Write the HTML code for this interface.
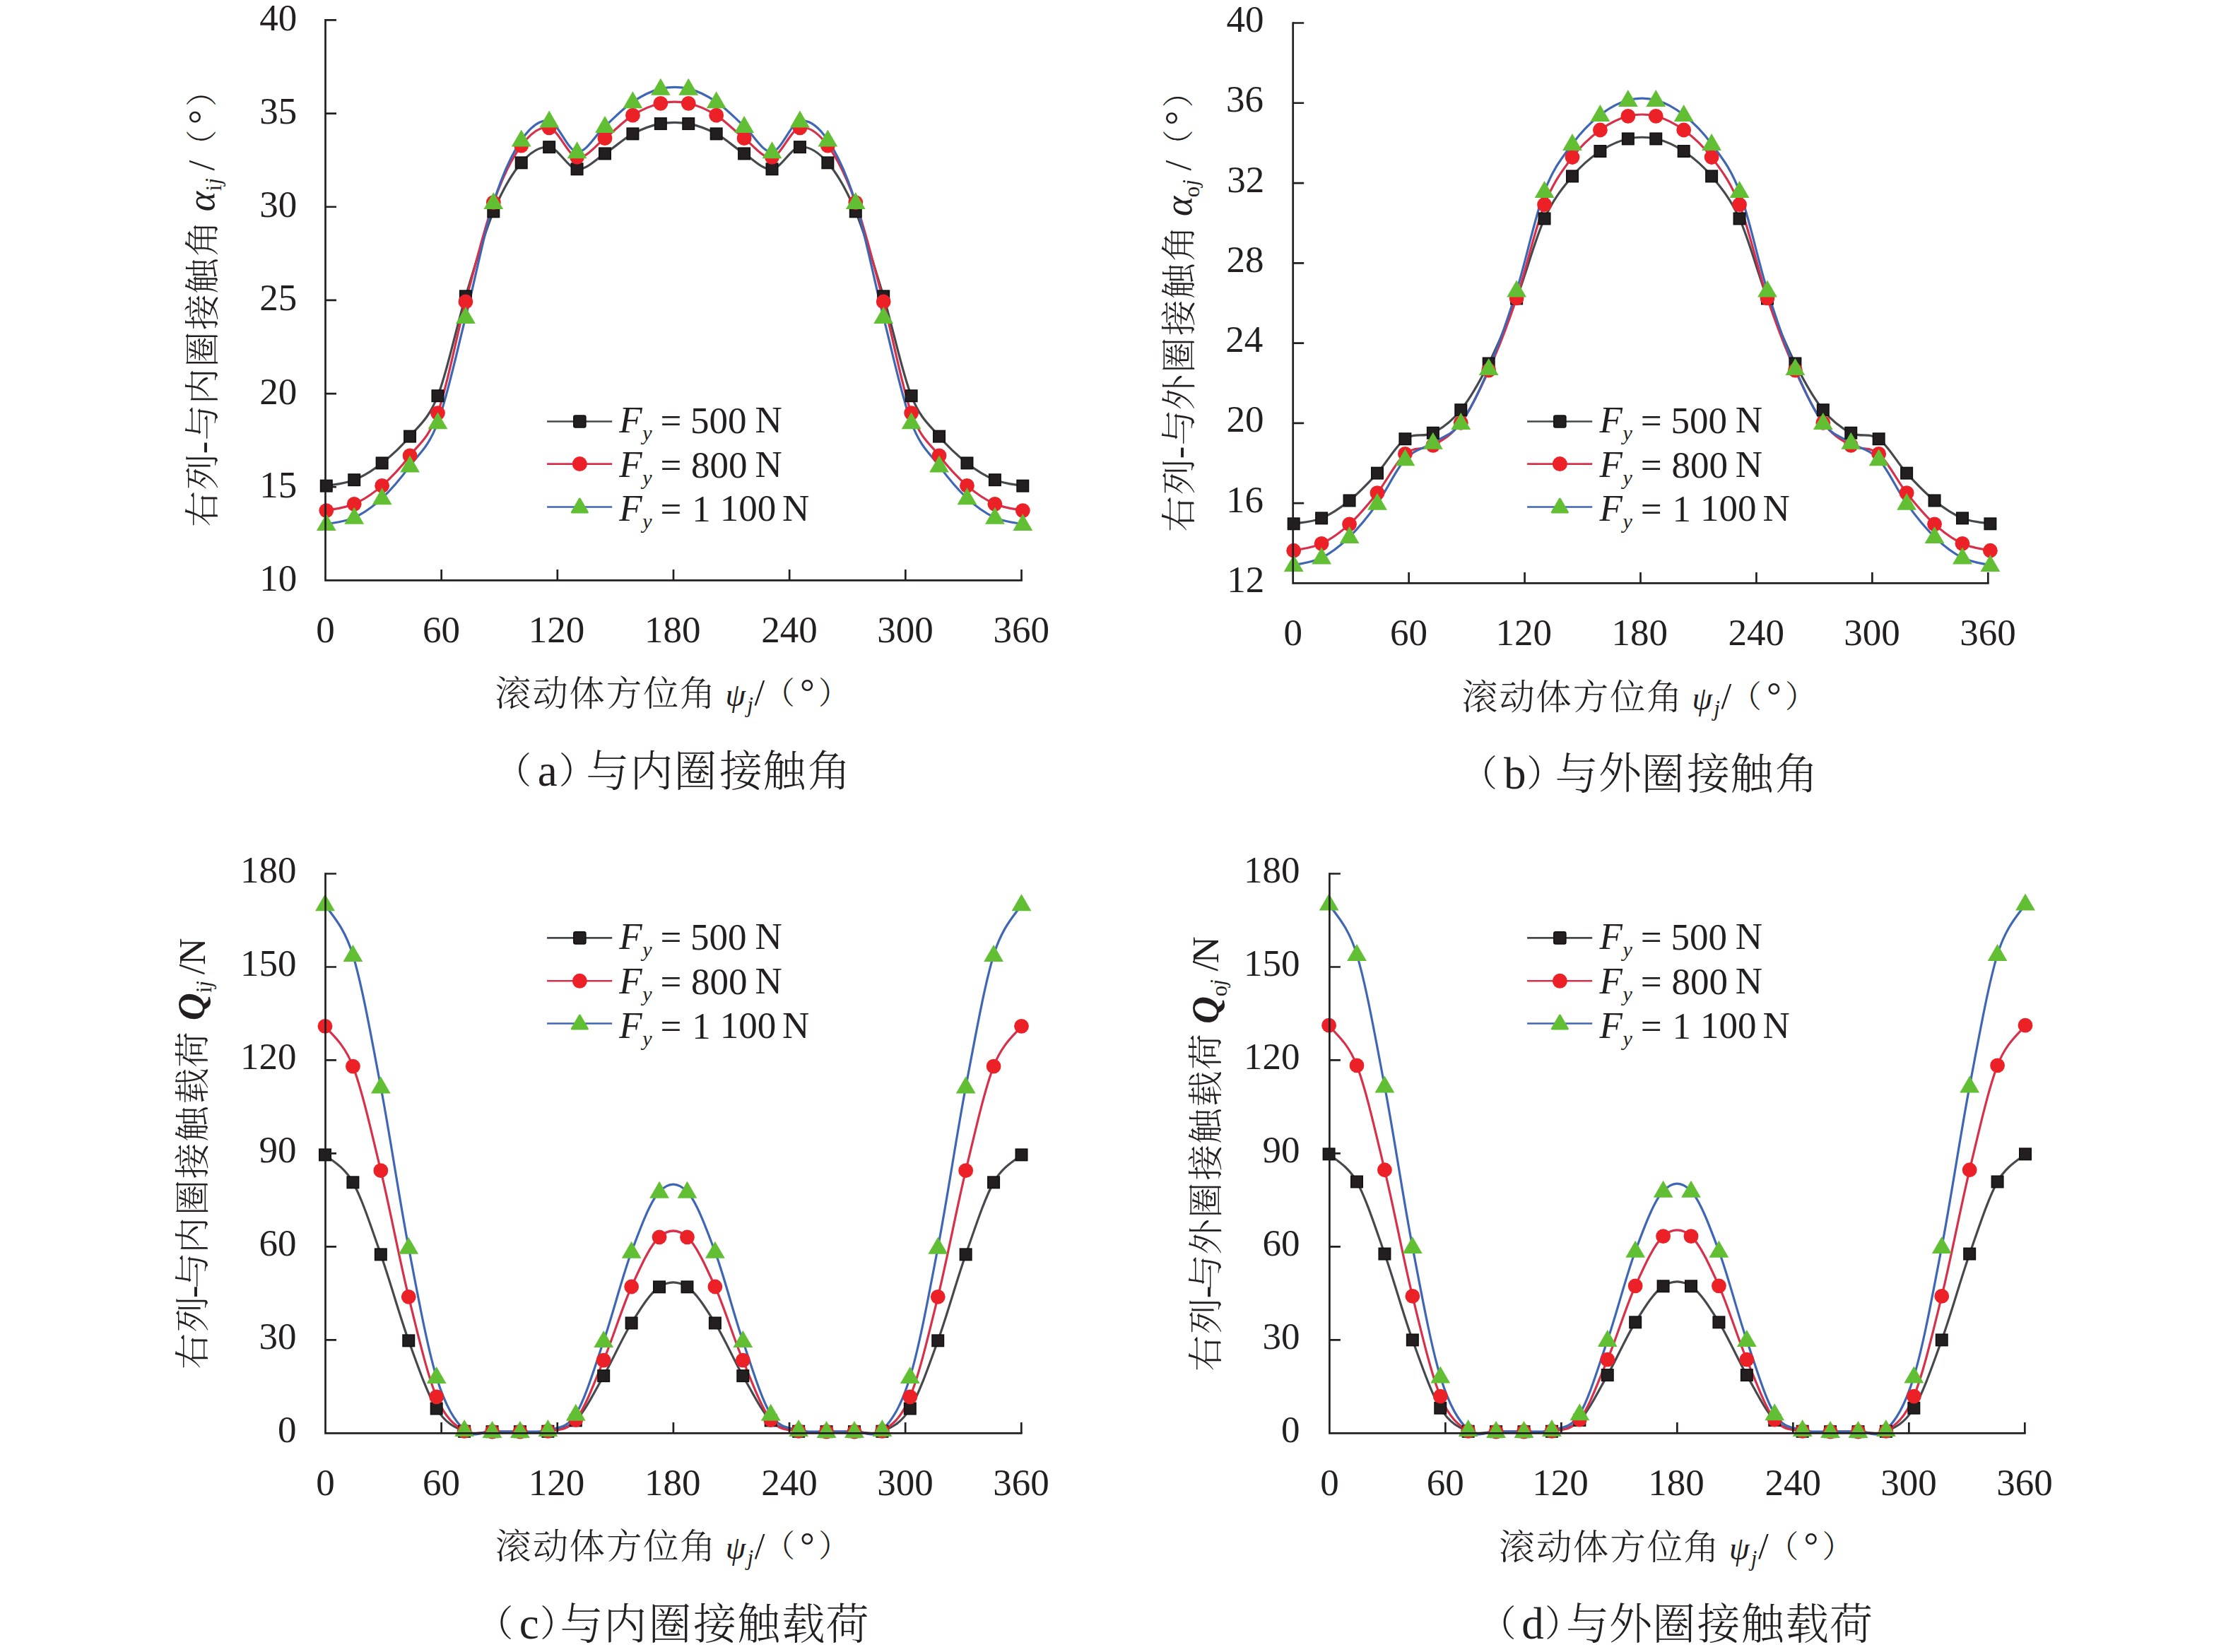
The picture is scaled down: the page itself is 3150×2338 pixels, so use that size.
<!DOCTYPE html>
<html><head><meta charset="utf-8"><title>Contact angle and contact load vs. rolling element azimuth</title>
<style>
html,body{margin:0;padding:0;background:#fff;}
body{width:3150px;height:2338px;overflow:hidden;}
svg{display:block;}
</style></head><body>
<svg width="3150" height="2338" viewBox="0 0 3150 2338">
<rect width="3150" height="2338" fill="#fff"/>
<g>
<path d="M461.8,687.65C468.37,686.24 488.08,684.56 501.22,679.19C514.36,673.81 527.5,665.66 540.64,655.4C553.78,645.13 566.92,633.46 580.06,617.6C593.2,601.74 606.34,593.28 619.48,560.24C632.62,527.2 645.76,462.83 658.9,419.35C672.04,375.87 685.18,330.84 698.32,299.34C711.46,267.84 724.6,245.55 737.74,230.35C750.88,215.15 764.02,206.65 777.16,208.15C790.3,209.64 803.44,237.8 816.58,239.34C829.72,240.88 842.86,225.72 856,217.4C869.14,209.07 882.28,196.43 895.42,189.38C908.56,182.33 921.7,177.48 934.84,175.1C947.98,172.73 961.12,172.73 974.26,175.1C987.4,177.48 1000.54,182.33 1013.68,189.38C1026.82,196.43 1039.96,209.07 1053.1,217.4C1066.24,225.72 1079.38,240.88 1092.52,239.34C1105.66,237.8 1118.8,209.64 1131.94,208.15C1145.08,206.65 1158.22,215.15 1171.36,230.35C1184.5,245.55 1197.64,267.84 1210.78,299.34C1223.92,330.84 1237.06,375.87 1250.2,419.35C1263.34,462.83 1276.48,527.2 1289.62,560.24C1302.76,593.28 1315.9,601.74 1329.04,617.6C1342.18,633.46 1355.32,645.13 1368.46,655.4C1381.6,665.66 1394.74,673.81 1407.88,679.19C1421.02,684.56 1440.73,686.24 1447.3,687.65" fill="none" stroke="#45484c" stroke-width="3.2" stroke-linejoin="round"/>
<path d="M461.8,722.54C468.37,721 488.08,719.15 501.22,713.29C514.36,707.43 527.5,698.79 540.64,687.38C553.78,675.97 566.92,661.96 580.06,644.83C593.2,627.69 606.34,620.86 619.48,584.56C632.62,548.26 645.76,476.67 658.9,427.01C672.04,377.36 685.18,323.48 698.32,286.65C711.46,249.82 724.6,223.65 737.74,206.03C750.88,188.41 764.02,178.19 777.16,180.92C790.3,183.65 803.44,219.95 816.58,222.42C829.72,224.89 842.86,205.59 856,195.72C869.14,185.85 882.28,171.45 895.42,163.21C908.56,154.97 921.7,149.11 934.84,146.29C947.98,143.47 961.12,143.47 974.26,146.29C987.4,149.11 1000.54,154.97 1013.68,163.21C1026.82,171.45 1039.96,185.85 1053.1,195.72C1066.24,205.59 1079.38,224.89 1092.52,222.42C1105.66,219.95 1118.8,183.65 1131.94,180.92C1145.08,178.19 1158.22,188.41 1171.36,206.03C1184.5,223.65 1197.64,249.82 1210.78,286.65C1223.92,323.48 1237.06,377.36 1250.2,427.01C1263.34,476.67 1276.48,548.26 1289.62,584.56C1302.76,620.86 1315.9,627.69 1329.04,644.83C1342.18,661.96 1355.32,675.97 1368.46,687.38C1381.6,698.79 1394.74,707.43 1407.88,713.29C1421.02,719.15 1440.73,721 1447.3,722.54" fill="none" stroke="#d6304a" stroke-width="3.2" stroke-linejoin="round"/>
<path d="M461.8,741.84C468.37,740.29 488.08,738.71 501.22,732.58C514.36,726.46 527.5,717.3 540.64,705.09C553.78,692.89 566.92,677.21 580.06,659.36C593.2,641.52 606.34,633.11 619.48,598.04C632.62,562.97 645.76,500.81 658.9,448.95C672.04,397.1 685.18,328.68 698.32,286.92C711.46,245.15 724.6,217.62 737.74,198.37C750.88,179.11 764.02,168.63 777.16,171.4C790.3,174.18 803.44,213.79 816.58,215.02C829.72,216.25 842.86,190.61 856,178.81C869.14,167 882.28,153.03 895.42,144.18C908.56,135.32 921.7,128.76 934.84,125.67C947.98,122.59 961.12,122.59 974.26,125.67C987.4,128.76 1000.54,135.32 1013.68,144.18C1026.82,153.03 1039.96,167 1053.1,178.81C1066.24,190.61 1079.38,216.25 1092.52,215.02C1105.66,213.79 1118.8,174.18 1131.94,171.4C1145.08,168.63 1158.22,179.11 1171.36,198.37C1184.5,217.62 1197.64,245.15 1210.78,286.92C1223.92,328.68 1237.06,397.1 1250.2,448.95C1263.34,500.81 1276.48,562.97 1289.62,598.04C1302.76,633.11 1315.9,641.52 1329.04,659.36C1342.18,677.21 1355.32,692.89 1368.46,705.09C1381.6,717.3 1394.74,726.46 1407.88,732.58C1421.02,738.71 1440.73,740.29 1447.3,741.84" fill="none" stroke="#3f66b5" stroke-width="3.2" stroke-linejoin="round"/>
<rect x="453.6" y="679.45" width="16.4" height="16.4" fill="#231f20" stroke="#111" stroke-width="1.6"/><rect x="493.02" y="670.99" width="16.4" height="16.4" fill="#231f20" stroke="#111" stroke-width="1.6"/><rect x="532.44" y="647.2" width="16.4" height="16.4" fill="#231f20" stroke="#111" stroke-width="1.6"/><rect x="571.86" y="609.4" width="16.4" height="16.4" fill="#231f20" stroke="#111" stroke-width="1.6"/><rect x="611.28" y="552.04" width="16.4" height="16.4" fill="#231f20" stroke="#111" stroke-width="1.6"/><rect x="650.7" y="411.15" width="16.4" height="16.4" fill="#231f20" stroke="#111" stroke-width="1.6"/><rect x="690.12" y="291.14" width="16.4" height="16.4" fill="#231f20" stroke="#111" stroke-width="1.6"/><rect x="729.54" y="222.15" width="16.4" height="16.4" fill="#231f20" stroke="#111" stroke-width="1.6"/><rect x="768.96" y="199.95" width="16.4" height="16.4" fill="#231f20" stroke="#111" stroke-width="1.6"/><rect x="808.38" y="231.14" width="16.4" height="16.4" fill="#231f20" stroke="#111" stroke-width="1.6"/><rect x="847.8" y="209.2" width="16.4" height="16.4" fill="#231f20" stroke="#111" stroke-width="1.6"/><rect x="887.22" y="181.18" width="16.4" height="16.4" fill="#231f20" stroke="#111" stroke-width="1.6"/><rect x="926.64" y="166.9" width="16.4" height="16.4" fill="#231f20" stroke="#111" stroke-width="1.6"/><rect x="966.06" y="166.9" width="16.4" height="16.4" fill="#231f20" stroke="#111" stroke-width="1.6"/><rect x="1005.48" y="181.18" width="16.4" height="16.4" fill="#231f20" stroke="#111" stroke-width="1.6"/><rect x="1044.9" y="209.2" width="16.4" height="16.4" fill="#231f20" stroke="#111" stroke-width="1.6"/><rect x="1084.32" y="231.14" width="16.4" height="16.4" fill="#231f20" stroke="#111" stroke-width="1.6"/><rect x="1123.74" y="199.95" width="16.4" height="16.4" fill="#231f20" stroke="#111" stroke-width="1.6"/><rect x="1163.16" y="222.15" width="16.4" height="16.4" fill="#231f20" stroke="#111" stroke-width="1.6"/><rect x="1202.58" y="291.14" width="16.4" height="16.4" fill="#231f20" stroke="#111" stroke-width="1.6"/><rect x="1242" y="411.15" width="16.4" height="16.4" fill="#231f20" stroke="#111" stroke-width="1.6"/><rect x="1281.42" y="552.04" width="16.4" height="16.4" fill="#231f20" stroke="#111" stroke-width="1.6"/><rect x="1320.84" y="609.4" width="16.4" height="16.4" fill="#231f20" stroke="#111" stroke-width="1.6"/><rect x="1360.26" y="647.2" width="16.4" height="16.4" fill="#231f20" stroke="#111" stroke-width="1.6"/><rect x="1399.68" y="670.99" width="16.4" height="16.4" fill="#231f20" stroke="#111" stroke-width="1.6"/><rect x="1439.1" y="679.45" width="16.4" height="16.4" fill="#231f20" stroke="#111" stroke-width="1.6"/>
<circle cx="461.8" cy="722.54" r="10.4" fill="#ec2027"/><circle cx="501.22" cy="713.29" r="10.4" fill="#ec2027"/><circle cx="540.64" cy="687.38" r="10.4" fill="#ec2027"/><circle cx="580.06" cy="644.83" r="10.4" fill="#ec2027"/><circle cx="619.48" cy="584.56" r="10.4" fill="#ec2027"/><circle cx="658.9" cy="427.01" r="10.4" fill="#ec2027"/><circle cx="698.32" cy="286.65" r="10.4" fill="#ec2027"/><circle cx="737.74" cy="206.03" r="10.4" fill="#ec2027"/><circle cx="777.16" cy="180.92" r="10.4" fill="#ec2027"/><circle cx="816.58" cy="222.42" r="10.4" fill="#ec2027"/><circle cx="856" cy="195.72" r="10.4" fill="#ec2027"/><circle cx="895.42" cy="163.21" r="10.4" fill="#ec2027"/><circle cx="934.84" cy="146.29" r="10.4" fill="#ec2027"/><circle cx="974.26" cy="146.29" r="10.4" fill="#ec2027"/><circle cx="1013.68" cy="163.21" r="10.4" fill="#ec2027"/><circle cx="1053.1" cy="195.72" r="10.4" fill="#ec2027"/><circle cx="1092.52" cy="222.42" r="10.4" fill="#ec2027"/><circle cx="1131.94" cy="180.92" r="10.4" fill="#ec2027"/><circle cx="1171.36" cy="206.03" r="10.4" fill="#ec2027"/><circle cx="1210.78" cy="286.65" r="10.4" fill="#ec2027"/><circle cx="1250.2" cy="427.01" r="10.4" fill="#ec2027"/><circle cx="1289.62" cy="584.56" r="10.4" fill="#ec2027"/><circle cx="1329.04" cy="644.83" r="10.4" fill="#ec2027"/><circle cx="1368.46" cy="687.38" r="10.4" fill="#ec2027"/><circle cx="1407.88" cy="713.29" r="10.4" fill="#ec2027"/><circle cx="1447.3" cy="722.54" r="10.4" fill="#ec2027"/>
<path d="M461.8,726.96L475.7,750.96L447.9,750.96Z" fill="#62bf34"/><path d="M501.22,717.7L515.12,741.7L487.32,741.7Z" fill="#62bf34"/><path d="M540.64,690.21L554.54,714.21L526.74,714.21Z" fill="#62bf34"/><path d="M580.06,644.48L593.96,668.48L566.16,668.48Z" fill="#62bf34"/><path d="M619.48,583.16L633.38,607.16L605.58,607.16Z" fill="#62bf34"/><path d="M658.9,434.07L672.8,458.07L645,458.07Z" fill="#62bf34"/><path d="M698.32,272.04L712.22,296.04L684.42,296.04Z" fill="#62bf34"/><path d="M737.74,183.49L751.64,207.49L723.84,207.49Z" fill="#62bf34"/><path d="M777.16,156.52L791.06,180.52L763.26,180.52Z" fill="#62bf34"/><path d="M816.58,200.14L830.48,224.14L802.68,224.14Z" fill="#62bf34"/><path d="M856,163.93L869.9,187.93L842.1,187.93Z" fill="#62bf34"/><path d="M895.42,129.3L909.32,153.3L881.52,153.3Z" fill="#62bf34"/><path d="M934.84,110.79L948.74,134.79L920.94,134.79Z" fill="#62bf34"/><path d="M974.26,110.79L988.16,134.79L960.36,134.79Z" fill="#62bf34"/><path d="M1013.68,129.3L1027.58,153.3L999.78,153.3Z" fill="#62bf34"/><path d="M1053.1,163.93L1067,187.93L1039.2,187.93Z" fill="#62bf34"/><path d="M1092.52,200.14L1106.42,224.14L1078.62,224.14Z" fill="#62bf34"/><path d="M1131.94,156.52L1145.84,180.52L1118.04,180.52Z" fill="#62bf34"/><path d="M1171.36,183.49L1185.26,207.49L1157.46,207.49Z" fill="#62bf34"/><path d="M1210.78,272.04L1224.68,296.04L1196.88,296.04Z" fill="#62bf34"/><path d="M1250.2,434.07L1264.1,458.07L1236.3,458.07Z" fill="#62bf34"/><path d="M1289.62,583.16L1303.52,607.16L1275.72,607.16Z" fill="#62bf34"/><path d="M1329.04,644.48L1342.94,668.48L1315.14,668.48Z" fill="#62bf34"/><path d="M1368.46,690.21L1382.36,714.21L1354.56,714.21Z" fill="#62bf34"/><path d="M1407.88,717.7L1421.78,741.7L1393.98,741.7Z" fill="#62bf34"/><path d="M1447.3,726.96L1461.2,750.96L1433.4,750.96Z" fill="#62bf34"/>
<path d="M460.5,27.05V821.4H1446.85" fill="none" stroke="#231f20" stroke-width="2.7"/>
<path d="M460.5,689.23h15.5M460.5,557.07h15.5M460.5,424.9h15.5M460.5,292.73h15.5M460.5,160.57h15.5M460.5,28.4h15.5M624.67,821.4v-15.5M788.83,821.4v-15.5M953,821.4v-15.5M1117.17,821.4v-15.5M1281.33,821.4v-15.5M1445.5,821.4v-15.5" fill="none" stroke="#231f20" stroke-width="2.7"/>
<line x1="774.1" y1="596.5" x2="866.2" y2="596.5" stroke="#45484c" stroke-width="2.6"/>
<rect x="811.85" y="588" width="17" height="17" rx="2.4" fill="#231f20" stroke="#111" stroke-width="1.6"/>
<line x1="774.1" y1="656.6" x2="866.2" y2="656.6" stroke="#d6304a" stroke-width="2.6"/>
<circle cx="820.35" cy="656.6" r="10.5" fill="#ec2027"/>
<line x1="774.1" y1="717.5" x2="866.2" y2="717.5" stroke="#3f66b5" stroke-width="2.6"/>
<path d="M820.35,706.1L831.35,725.1L809.35,725.1Z" fill="#62bf34" stroke="#62bf34" stroke-width="3" stroke-linejoin="round"/>
</g>
<g>
<path d="M1830.7,741.3C1837.27,739.97 1856.99,738.84 1870.13,733.37C1883.27,727.89 1896.41,719.07 1909.56,708.45C1922.7,697.83 1935.84,684.19 1948.98,669.65C1962.13,655.12 1975.27,630.71 1988.41,621.23C2001.55,611.74 2014.7,619.58 2027.84,612.73C2040.98,605.89 2054.13,596.54 2067.27,580.17C2080.41,563.79 2093.55,540.76 2106.7,514.47C2119.84,488.18 2132.98,456.61 2146.12,422.44C2159.27,388.27 2172.41,338.29 2185.55,309.45C2198.69,280.61 2211.84,265.32 2224.98,249.41C2238.12,233.51 2251.27,222.84 2264.41,214.02C2277.55,205.19 2290.69,199.39 2303.84,196.46C2316.98,193.53 2330.12,193.53 2343.26,196.46C2356.41,199.39 2369.55,205.19 2382.69,214.02C2395.83,222.84 2408.98,233.51 2422.12,249.41C2435.26,265.32 2448.41,280.61 2461.55,309.45C2474.69,338.29 2487.83,388.27 2500.98,422.44C2514.12,456.61 2527.26,488.18 2540.4,514.47C2553.55,540.76 2566.69,563.79 2579.83,580.17C2592.97,596.54 2606.12,605.89 2619.26,612.73C2632.4,619.58 2645.55,611.74 2658.69,621.23C2671.83,630.71 2684.97,655.12 2698.12,669.65C2711.26,684.19 2724.4,697.83 2737.54,708.45C2750.69,719.07 2763.83,727.89 2776.97,733.37C2790.11,738.84 2809.83,739.97 2816.4,741.3" fill="none" stroke="#45484c" stroke-width="3.2" stroke-linejoin="round"/>
<path d="M1830.7,779.24C1837.27,777.59 1856.99,775.56 1870.13,769.33C1883.27,763.1 1896.41,753.8 1909.56,741.86C1922.7,729.92 1935.84,714.25 1948.98,697.69C1962.13,681.12 1975.27,653.7 1988.41,642.47C2001.55,631.23 2014.7,637.65 2027.84,630.29C2040.98,622.93 2054.13,615.99 2067.27,598.29C2080.41,580.59 2093.55,553.5 2106.7,524.1C2119.84,494.69 2132.98,460.95 2146.12,421.87C2159.27,382.79 2172.41,322.85 2185.55,289.63C2198.69,256.4 2211.84,240.12 2224.98,222.51C2238.12,204.91 2251.27,193.68 2264.41,184C2277.55,174.33 2290.69,167.72 2303.84,164.46C2316.98,161.2 2330.12,161.2 2343.26,164.46C2356.41,167.72 2369.55,174.33 2382.69,184C2395.83,193.68 2408.98,204.91 2422.12,222.51C2435.26,240.12 2448.41,256.4 2461.55,289.63C2474.69,322.85 2487.83,382.79 2500.98,421.87C2514.12,460.95 2527.26,494.69 2540.4,524.1C2553.55,553.5 2566.69,580.59 2579.83,598.29C2592.97,615.99 2606.12,622.93 2619.26,630.29C2632.4,637.65 2645.55,631.23 2658.69,642.47C2671.83,653.7 2684.97,681.12 2698.12,697.69C2711.26,714.25 2724.4,729.92 2737.54,741.86C2750.69,753.8 2763.83,763.1 2776.97,769.33C2790.11,775.56 2809.83,777.59 2816.4,779.24" fill="none" stroke="#d6304a" stroke-width="3.2" stroke-linejoin="round"/>
<path d="M1830.7,799.91C1837.27,798.17 1856.99,796.09 1870.13,789.44C1883.27,782.78 1896.41,772.78 1909.56,759.99C1922.7,747.2 1935.84,731.01 1948.98,712.69C1962.13,694.38 1975.27,664.46 1988.41,650.11C2001.55,635.76 2014.7,635.15 2027.84,626.61C2040.98,618.07 2054.13,616.32 2067.27,598.86C2080.41,581.39 2093.55,553.08 2106.7,521.83C2119.84,490.59 2132.98,453.21 2146.12,411.39C2159.27,369.58 2172.41,305.53 2185.55,270.94C2198.69,236.34 2211.84,221.85 2224.98,203.82C2238.12,185.79 2251.27,173.1 2264.41,162.76C2277.55,152.43 2290.69,145.3 2303.84,141.81C2316.98,138.31 2330.12,138.31 2343.26,141.81C2356.41,145.3 2369.55,152.43 2382.69,162.76C2395.83,173.1 2408.98,185.79 2422.12,203.82C2435.26,221.85 2448.41,236.34 2461.55,270.94C2474.69,305.53 2487.83,369.58 2500.98,411.39C2514.12,453.21 2527.26,490.59 2540.4,521.83C2553.55,553.08 2566.69,581.39 2579.83,598.86C2592.97,616.32 2606.12,618.07 2619.26,626.61C2632.4,635.15 2645.55,635.76 2658.69,650.11C2671.83,664.46 2684.97,694.38 2698.12,712.69C2711.26,731.01 2724.4,747.2 2737.54,759.99C2750.69,772.78 2763.83,782.78 2776.97,789.44C2790.11,796.09 2809.83,798.17 2816.4,799.91" fill="none" stroke="#3f66b5" stroke-width="3.2" stroke-linejoin="round"/>
<rect x="1822.5" y="733.1" width="16.4" height="16.4" fill="#231f20" stroke="#111" stroke-width="1.6"/><rect x="1861.93" y="725.17" width="16.4" height="16.4" fill="#231f20" stroke="#111" stroke-width="1.6"/><rect x="1901.36" y="700.25" width="16.4" height="16.4" fill="#231f20" stroke="#111" stroke-width="1.6"/><rect x="1940.78" y="661.45" width="16.4" height="16.4" fill="#231f20" stroke="#111" stroke-width="1.6"/><rect x="1980.21" y="613.03" width="16.4" height="16.4" fill="#231f20" stroke="#111" stroke-width="1.6"/><rect x="2019.64" y="604.53" width="16.4" height="16.4" fill="#231f20" stroke="#111" stroke-width="1.6"/><rect x="2059.07" y="571.97" width="16.4" height="16.4" fill="#231f20" stroke="#111" stroke-width="1.6"/><rect x="2098.5" y="506.27" width="16.4" height="16.4" fill="#231f20" stroke="#111" stroke-width="1.6"/><rect x="2137.92" y="414.24" width="16.4" height="16.4" fill="#231f20" stroke="#111" stroke-width="1.6"/><rect x="2177.35" y="301.25" width="16.4" height="16.4" fill="#231f20" stroke="#111" stroke-width="1.6"/><rect x="2216.78" y="241.21" width="16.4" height="16.4" fill="#231f20" stroke="#111" stroke-width="1.6"/><rect x="2256.21" y="205.82" width="16.4" height="16.4" fill="#231f20" stroke="#111" stroke-width="1.6"/><rect x="2295.64" y="188.26" width="16.4" height="16.4" fill="#231f20" stroke="#111" stroke-width="1.6"/><rect x="2335.06" y="188.26" width="16.4" height="16.4" fill="#231f20" stroke="#111" stroke-width="1.6"/><rect x="2374.49" y="205.82" width="16.4" height="16.4" fill="#231f20" stroke="#111" stroke-width="1.6"/><rect x="2413.92" y="241.21" width="16.4" height="16.4" fill="#231f20" stroke="#111" stroke-width="1.6"/><rect x="2453.35" y="301.25" width="16.4" height="16.4" fill="#231f20" stroke="#111" stroke-width="1.6"/><rect x="2492.78" y="414.24" width="16.4" height="16.4" fill="#231f20" stroke="#111" stroke-width="1.6"/><rect x="2532.2" y="506.27" width="16.4" height="16.4" fill="#231f20" stroke="#111" stroke-width="1.6"/><rect x="2571.63" y="571.97" width="16.4" height="16.4" fill="#231f20" stroke="#111" stroke-width="1.6"/><rect x="2611.06" y="604.53" width="16.4" height="16.4" fill="#231f20" stroke="#111" stroke-width="1.6"/><rect x="2650.49" y="613.03" width="16.4" height="16.4" fill="#231f20" stroke="#111" stroke-width="1.6"/><rect x="2689.92" y="661.45" width="16.4" height="16.4" fill="#231f20" stroke="#111" stroke-width="1.6"/><rect x="2729.34" y="700.25" width="16.4" height="16.4" fill="#231f20" stroke="#111" stroke-width="1.6"/><rect x="2768.77" y="725.17" width="16.4" height="16.4" fill="#231f20" stroke="#111" stroke-width="1.6"/><rect x="2808.2" y="733.1" width="16.4" height="16.4" fill="#231f20" stroke="#111" stroke-width="1.6"/>
<circle cx="1830.7" cy="779.24" r="10.4" fill="#ec2027"/><circle cx="1870.13" cy="769.33" r="10.4" fill="#ec2027"/><circle cx="1909.56" cy="741.86" r="10.4" fill="#ec2027"/><circle cx="1948.98" cy="697.69" r="10.4" fill="#ec2027"/><circle cx="1988.41" cy="642.47" r="10.4" fill="#ec2027"/><circle cx="2027.84" cy="630.29" r="10.4" fill="#ec2027"/><circle cx="2067.27" cy="598.29" r="10.4" fill="#ec2027"/><circle cx="2106.7" cy="524.1" r="10.4" fill="#ec2027"/><circle cx="2146.12" cy="421.87" r="10.4" fill="#ec2027"/><circle cx="2185.55" cy="289.63" r="10.4" fill="#ec2027"/><circle cx="2224.98" cy="222.51" r="10.4" fill="#ec2027"/><circle cx="2264.41" cy="184" r="10.4" fill="#ec2027"/><circle cx="2303.84" cy="164.46" r="10.4" fill="#ec2027"/><circle cx="2343.26" cy="164.46" r="10.4" fill="#ec2027"/><circle cx="2382.69" cy="184" r="10.4" fill="#ec2027"/><circle cx="2422.12" cy="222.51" r="10.4" fill="#ec2027"/><circle cx="2461.55" cy="289.63" r="10.4" fill="#ec2027"/><circle cx="2500.98" cy="421.87" r="10.4" fill="#ec2027"/><circle cx="2540.4" cy="524.1" r="10.4" fill="#ec2027"/><circle cx="2579.83" cy="598.29" r="10.4" fill="#ec2027"/><circle cx="2619.26" cy="630.29" r="10.4" fill="#ec2027"/><circle cx="2658.69" cy="642.47" r="10.4" fill="#ec2027"/><circle cx="2698.12" cy="697.69" r="10.4" fill="#ec2027"/><circle cx="2737.54" cy="741.86" r="10.4" fill="#ec2027"/><circle cx="2776.97" cy="769.33" r="10.4" fill="#ec2027"/><circle cx="2816.4" cy="779.24" r="10.4" fill="#ec2027"/>
<path d="M1830.7,785.03L1844.6,809.03L1816.8,809.03Z" fill="#62bf34"/><path d="M1870.13,774.56L1884.03,798.56L1856.23,798.56Z" fill="#62bf34"/><path d="M1909.56,745.11L1923.46,769.11L1895.66,769.11Z" fill="#62bf34"/><path d="M1948.98,697.81L1962.88,721.81L1935.08,721.81Z" fill="#62bf34"/><path d="M1988.41,635.23L2002.31,659.23L1974.51,659.23Z" fill="#62bf34"/><path d="M2027.84,611.73L2041.74,635.73L2013.94,635.73Z" fill="#62bf34"/><path d="M2067.27,583.98L2081.17,607.98L2053.37,607.98Z" fill="#62bf34"/><path d="M2106.7,506.95L2120.6,530.95L2092.8,530.95Z" fill="#62bf34"/><path d="M2146.12,396.51L2160.02,420.51L2132.22,420.51Z" fill="#62bf34"/><path d="M2185.55,256.06L2199.45,280.06L2171.65,280.06Z" fill="#62bf34"/><path d="M2224.98,188.94L2238.88,212.94L2211.08,212.94Z" fill="#62bf34"/><path d="M2264.41,147.88L2278.31,171.88L2250.51,171.88Z" fill="#62bf34"/><path d="M2303.84,126.93L2317.74,150.93L2289.94,150.93Z" fill="#62bf34"/><path d="M2343.26,126.93L2357.16,150.93L2329.36,150.93Z" fill="#62bf34"/><path d="M2382.69,147.88L2396.59,171.88L2368.79,171.88Z" fill="#62bf34"/><path d="M2422.12,188.94L2436.02,212.94L2408.22,212.94Z" fill="#62bf34"/><path d="M2461.55,256.06L2475.45,280.06L2447.65,280.06Z" fill="#62bf34"/><path d="M2500.98,396.51L2514.88,420.51L2487.08,420.51Z" fill="#62bf34"/><path d="M2540.4,506.95L2554.3,530.95L2526.5,530.95Z" fill="#62bf34"/><path d="M2579.83,583.98L2593.73,607.98L2565.93,607.98Z" fill="#62bf34"/><path d="M2619.26,611.73L2633.16,635.73L2605.36,635.73Z" fill="#62bf34"/><path d="M2658.69,635.23L2672.59,659.23L2644.79,659.23Z" fill="#62bf34"/><path d="M2698.12,697.81L2712.02,721.81L2684.22,721.81Z" fill="#62bf34"/><path d="M2737.54,745.11L2751.44,769.11L2723.64,769.11Z" fill="#62bf34"/><path d="M2776.97,774.56L2790.87,798.56L2763.07,798.56Z" fill="#62bf34"/><path d="M2816.4,785.03L2830.3,809.03L2802.5,809.03Z" fill="#62bf34"/>
<path d="M1829.7,31.15V825.4H2814.65" fill="none" stroke="#231f20" stroke-width="2.7"/>
<path d="M1829.7,712.13h15.5M1829.7,598.86h15.5M1829.7,485.59h15.5M1829.7,372.31h15.5M1829.7,259.04h15.5M1829.7,145.77h15.5M1829.7,32.5h15.5M1993.63,825.4v-15.5M2157.57,825.4v-15.5M2321.5,825.4v-15.5M2485.43,825.4v-15.5M2649.37,825.4v-15.5M2813.3,825.4v-15.5" fill="none" stroke="#231f20" stroke-width="2.7"/>
<line x1="2161.1" y1="596.5" x2="2253.2" y2="596.5" stroke="#45484c" stroke-width="2.6"/>
<rect x="2198.85" y="588" width="17" height="17" rx="2.4" fill="#231f20" stroke="#111" stroke-width="1.6"/>
<line x1="2161.1" y1="656.6" x2="2253.2" y2="656.6" stroke="#d6304a" stroke-width="2.6"/>
<circle cx="2207.35" cy="656.6" r="10.5" fill="#ec2027"/>
<line x1="2161.1" y1="717.5" x2="2253.2" y2="717.5" stroke="#3f66b5" stroke-width="2.6"/>
<path d="M2207.35,706.1L2218.35,725.1L2196.35,725.1Z" fill="#62bf34" stroke="#62bf34" stroke-width="3" stroke-linejoin="round"/>
</g>
<g>
<path d="M460,1634.39C466.57,1640.88 486.28,1649.86 499.42,1673.36C512.56,1696.87 525.7,1738.06 538.84,1775.39C551.98,1812.72 565.12,1860.99 578.26,1897.34C591.4,1933.69 604.54,1972.11 617.68,1993.51C630.82,2014.92 643.96,2020.31 657.1,2025.76C670.24,2031.21 683.38,2026.13 696.52,2026.2C709.66,2026.27 722.8,2026.27 735.94,2026.2C749.08,2026.13 762.22,2028.4 775.36,2025.76C788.5,2023.12 801.64,2023.46 814.78,2010.36C827.92,1997.27 841.06,1970.17 854.2,1947.19C867.34,1924.21 880.48,1893.45 893.62,1872.48C906.76,1851.51 919.9,1829.88 933.04,1821.36C946.18,1812.84 959.32,1812.84 972.46,1821.36C985.6,1829.88 998.74,1851.51 1011.88,1872.48C1025.02,1893.45 1038.16,1924.21 1051.3,1947.19C1064.44,1970.17 1077.58,1997.27 1090.72,2010.36C1103.86,2023.46 1117,2023.12 1130.14,2025.76C1143.28,2028.4 1156.42,2026.13 1169.56,2026.2C1182.7,2026.27 1195.84,2026.27 1208.98,2026.2C1222.12,2026.13 1235.26,2031.21 1248.4,2025.76C1261.54,2020.31 1274.68,2014.92 1287.82,1993.51C1300.96,1972.11 1314.1,1933.69 1327.24,1897.34C1340.38,1860.99 1353.52,1812.72 1366.66,1775.39C1379.8,1738.06 1392.94,1696.87 1406.08,1673.36C1419.22,1649.86 1438.93,1640.88 1445.5,1634.39" fill="none" stroke="#45484c" stroke-width="3.2" stroke-linejoin="round"/>
<path d="M460,1452.29C466.57,1461.76 486.28,1475.02 499.42,1509.09C512.56,1543.16 525.7,1602.31 538.84,1656.69C551.98,1711.07 565.12,1782 578.26,1835.35C591.4,1888.7 604.54,1945.13 617.68,1976.79C630.82,2008.46 643.96,2017.09 657.1,2025.32C670.24,2033.55 683.38,2026.05 696.52,2026.2C709.66,2026.35 722.8,2026.35 735.94,2026.2C749.08,2026.05 762.22,2028.11 775.36,2025.32C788.5,2022.53 801.64,2026.17 814.78,2009.48C827.92,1992.79 841.06,1956.6 854.2,1925.19C867.34,1893.78 880.48,1850.08 893.62,1821.01C906.76,1791.94 919.9,1762.5 933.04,1750.8C946.18,1739.09 959.32,1739.09 972.46,1750.8C985.6,1762.5 998.74,1791.94 1011.88,1821.01C1025.02,1850.08 1038.16,1893.78 1051.3,1925.19C1064.44,1956.6 1077.58,1992.79 1090.72,2009.48C1103.86,2026.17 1117,2022.53 1130.14,2025.32C1143.28,2028.11 1156.42,2026.05 1169.56,2026.2C1182.7,2026.35 1195.84,2026.35 1208.98,2026.2C1222.12,2026.05 1235.26,2033.55 1248.4,2025.32C1261.54,2017.09 1274.68,2008.46 1287.82,1976.79C1300.96,1945.13 1314.1,1888.7 1327.24,1835.35C1340.38,1782 1353.52,1711.07 1366.66,1656.69C1379.8,1602.31 1392.94,1543.16 1406.08,1509.09C1419.22,1475.02 1438.93,1461.76 1445.5,1452.29" fill="none" stroke="#d6304a" stroke-width="3.2" stroke-linejoin="round"/>
<path d="M460,1280.05C466.57,1292.01 486.28,1308.72 499.42,1351.77C512.56,1394.81 525.7,1469.33 538.84,1538.3C551.98,1607.27 565.12,1697.13 578.26,1765.58C591.4,1834.03 604.54,1905.96 617.68,1948.99C630.82,1992.02 643.96,2010.99 657.1,2023.78C670.24,2036.58 683.38,2025.43 696.52,2025.76C709.66,2026.09 722.8,2026.05 735.94,2025.76C749.08,2025.47 762.22,2028.01 775.36,2024C788.5,2019.99 801.64,2022.7 814.78,2001.7C827.92,1980.7 841.06,1936.35 854.2,1898C867.34,1859.65 880.48,1806.82 893.62,1771.6C906.76,1736.39 919.9,1700.85 933.04,1686.7C946.18,1672.54 959.32,1672.54 972.46,1686.7C985.6,1700.85 998.74,1736.39 1011.88,1771.6C1025.02,1806.82 1038.16,1859.65 1051.3,1898C1064.44,1936.35 1077.58,1980.7 1090.72,2001.7C1103.86,2022.7 1117,2019.99 1130.14,2024C1143.28,2028.01 1156.42,2025.47 1169.56,2025.76C1182.7,2026.05 1195.84,2026.09 1208.98,2025.76C1222.12,2025.43 1235.26,2036.58 1248.4,2023.78C1261.54,2010.99 1274.68,1992.02 1287.82,1948.99C1300.96,1905.96 1314.1,1834.03 1327.24,1765.58C1340.38,1697.13 1353.52,1607.27 1366.66,1538.3C1379.8,1469.33 1392.94,1394.81 1406.08,1351.77C1419.22,1308.72 1438.93,1292.01 1445.5,1280.05" fill="none" stroke="#3f66b5" stroke-width="3.2" stroke-linejoin="round"/>
<rect x="451.8" y="1626.19" width="16.4" height="16.4" fill="#231f20" stroke="#111" stroke-width="1.6"/><rect x="491.22" y="1665.16" width="16.4" height="16.4" fill="#231f20" stroke="#111" stroke-width="1.6"/><rect x="530.64" y="1767.19" width="16.4" height="16.4" fill="#231f20" stroke="#111" stroke-width="1.6"/><rect x="570.06" y="1889.14" width="16.4" height="16.4" fill="#231f20" stroke="#111" stroke-width="1.6"/><rect x="609.48" y="1985.31" width="16.4" height="16.4" fill="#231f20" stroke="#111" stroke-width="1.6"/><rect x="648.9" y="2017.56" width="16.4" height="16.4" fill="#231f20" stroke="#111" stroke-width="1.6"/><rect x="688.32" y="2018" width="16.4" height="16.4" fill="#231f20" stroke="#111" stroke-width="1.6"/><rect x="727.74" y="2018" width="16.4" height="16.4" fill="#231f20" stroke="#111" stroke-width="1.6"/><rect x="767.16" y="2017.56" width="16.4" height="16.4" fill="#231f20" stroke="#111" stroke-width="1.6"/><rect x="806.58" y="2002.16" width="16.4" height="16.4" fill="#231f20" stroke="#111" stroke-width="1.6"/><rect x="846" y="1938.99" width="16.4" height="16.4" fill="#231f20" stroke="#111" stroke-width="1.6"/><rect x="885.42" y="1864.28" width="16.4" height="16.4" fill="#231f20" stroke="#111" stroke-width="1.6"/><rect x="924.84" y="1813.16" width="16.4" height="16.4" fill="#231f20" stroke="#111" stroke-width="1.6"/><rect x="964.26" y="1813.16" width="16.4" height="16.4" fill="#231f20" stroke="#111" stroke-width="1.6"/><rect x="1003.68" y="1864.28" width="16.4" height="16.4" fill="#231f20" stroke="#111" stroke-width="1.6"/><rect x="1043.1" y="1938.99" width="16.4" height="16.4" fill="#231f20" stroke="#111" stroke-width="1.6"/><rect x="1082.52" y="2002.16" width="16.4" height="16.4" fill="#231f20" stroke="#111" stroke-width="1.6"/><rect x="1121.94" y="2017.56" width="16.4" height="16.4" fill="#231f20" stroke="#111" stroke-width="1.6"/><rect x="1161.36" y="2018" width="16.4" height="16.4" fill="#231f20" stroke="#111" stroke-width="1.6"/><rect x="1200.78" y="2018" width="16.4" height="16.4" fill="#231f20" stroke="#111" stroke-width="1.6"/><rect x="1240.2" y="2017.56" width="16.4" height="16.4" fill="#231f20" stroke="#111" stroke-width="1.6"/><rect x="1279.62" y="1985.31" width="16.4" height="16.4" fill="#231f20" stroke="#111" stroke-width="1.6"/><rect x="1319.04" y="1889.14" width="16.4" height="16.4" fill="#231f20" stroke="#111" stroke-width="1.6"/><rect x="1358.46" y="1767.19" width="16.4" height="16.4" fill="#231f20" stroke="#111" stroke-width="1.6"/><rect x="1397.88" y="1665.16" width="16.4" height="16.4" fill="#231f20" stroke="#111" stroke-width="1.6"/><rect x="1437.3" y="1626.19" width="16.4" height="16.4" fill="#231f20" stroke="#111" stroke-width="1.6"/>
<circle cx="460" cy="1452.29" r="10.4" fill="#ec2027"/><circle cx="499.42" cy="1509.09" r="10.4" fill="#ec2027"/><circle cx="538.84" cy="1656.69" r="10.4" fill="#ec2027"/><circle cx="578.26" cy="1835.35" r="10.4" fill="#ec2027"/><circle cx="617.68" cy="1976.79" r="10.4" fill="#ec2027"/><circle cx="657.1" cy="2025.32" r="10.4" fill="#ec2027"/><circle cx="696.52" cy="2026.2" r="10.4" fill="#ec2027"/><circle cx="735.94" cy="2026.2" r="10.4" fill="#ec2027"/><circle cx="775.36" cy="2025.32" r="10.4" fill="#ec2027"/><circle cx="814.78" cy="2009.48" r="10.4" fill="#ec2027"/><circle cx="854.2" cy="1925.19" r="10.4" fill="#ec2027"/><circle cx="893.62" cy="1821.01" r="10.4" fill="#ec2027"/><circle cx="933.04" cy="1750.8" r="10.4" fill="#ec2027"/><circle cx="972.46" cy="1750.8" r="10.4" fill="#ec2027"/><circle cx="1011.88" cy="1821.01" r="10.4" fill="#ec2027"/><circle cx="1051.3" cy="1925.19" r="10.4" fill="#ec2027"/><circle cx="1090.72" cy="2009.48" r="10.4" fill="#ec2027"/><circle cx="1130.14" cy="2025.32" r="10.4" fill="#ec2027"/><circle cx="1169.56" cy="2026.2" r="10.4" fill="#ec2027"/><circle cx="1208.98" cy="2026.2" r="10.4" fill="#ec2027"/><circle cx="1248.4" cy="2025.32" r="10.4" fill="#ec2027"/><circle cx="1287.82" cy="1976.79" r="10.4" fill="#ec2027"/><circle cx="1327.24" cy="1835.35" r="10.4" fill="#ec2027"/><circle cx="1366.66" cy="1656.69" r="10.4" fill="#ec2027"/><circle cx="1406.08" cy="1509.09" r="10.4" fill="#ec2027"/><circle cx="1445.5" cy="1452.29" r="10.4" fill="#ec2027"/>
<path d="M460,1265.17L473.9,1289.17L446.1,1289.17Z" fill="#62bf34"/><path d="M499.42,1336.89L513.32,1360.89L485.52,1360.89Z" fill="#62bf34"/><path d="M538.84,1523.42L552.74,1547.42L524.94,1547.42Z" fill="#62bf34"/><path d="M578.26,1750.7L592.16,1774.7L564.36,1774.7Z" fill="#62bf34"/><path d="M617.68,1934.11L631.58,1958.11L603.78,1958.11Z" fill="#62bf34"/><path d="M657.1,2008.9L671,2032.9L643.2,2032.9Z" fill="#62bf34"/><path d="M696.52,2010.88L710.42,2034.88L682.62,2034.88Z" fill="#62bf34"/><path d="M735.94,2010.88L749.84,2034.88L722.04,2034.88Z" fill="#62bf34"/><path d="M775.36,2009.12L789.26,2033.12L761.46,2033.12Z" fill="#62bf34"/><path d="M814.78,1986.82L828.68,2010.82L800.88,2010.82Z" fill="#62bf34"/><path d="M854.2,1883.12L868.1,1907.12L840.3,1907.12Z" fill="#62bf34"/><path d="M893.62,1756.72L907.52,1780.72L879.72,1780.72Z" fill="#62bf34"/><path d="M933.04,1671.82L946.94,1695.82L919.14,1695.82Z" fill="#62bf34"/><path d="M972.46,1671.82L986.36,1695.82L958.56,1695.82Z" fill="#62bf34"/><path d="M1011.88,1756.72L1025.78,1780.72L997.98,1780.72Z" fill="#62bf34"/><path d="M1051.3,1883.12L1065.2,1907.12L1037.4,1907.12Z" fill="#62bf34"/><path d="M1090.72,1986.82L1104.62,2010.82L1076.82,2010.82Z" fill="#62bf34"/><path d="M1130.14,2009.12L1144.04,2033.12L1116.24,2033.12Z" fill="#62bf34"/><path d="M1169.56,2010.88L1183.46,2034.88L1155.66,2034.88Z" fill="#62bf34"/><path d="M1208.98,2010.88L1222.88,2034.88L1195.08,2034.88Z" fill="#62bf34"/><path d="M1248.4,2008.9L1262.3,2032.9L1234.5,2032.9Z" fill="#62bf34"/><path d="M1287.82,1934.11L1301.72,1958.11L1273.92,1958.11Z" fill="#62bf34"/><path d="M1327.24,1750.7L1341.14,1774.7L1313.34,1774.7Z" fill="#62bf34"/><path d="M1366.66,1523.42L1380.56,1547.42L1352.76,1547.42Z" fill="#62bf34"/><path d="M1406.08,1336.89L1419.98,1360.89L1392.18,1360.89Z" fill="#62bf34"/><path d="M1445.5,1265.17L1459.4,1289.17L1431.6,1289.17Z" fill="#62bf34"/>
<path d="M460.5,1235.15V2028.4H1446.65" fill="none" stroke="#231f20" stroke-width="2.7"/>
<path d="M460.5,1896.42h15.5M460.5,1764.43h15.5M460.5,1632.45h15.5M460.5,1500.47h15.5M460.5,1368.48h15.5M460.5,1236.5h15.5M624.63,2028.4v-15.5M788.77,2028.4v-15.5M952.9,2028.4v-15.5M1117.03,2028.4v-15.5M1281.17,2028.4v-15.5M1445.3,2028.4v-15.5" fill="none" stroke="#231f20" stroke-width="2.7"/>
<line x1="774.1" y1="1327.4" x2="866.2" y2="1327.4" stroke="#45484c" stroke-width="2.6"/>
<rect x="811.85" y="1318.9" width="17" height="17" rx="2.4" fill="#231f20" stroke="#111" stroke-width="1.6"/>
<line x1="774.1" y1="1388.3" x2="866.2" y2="1388.3" stroke="#d6304a" stroke-width="2.6"/>
<circle cx="820.35" cy="1388.3" r="10.5" fill="#ec2027"/>
<line x1="774.1" y1="1448.5" x2="866.2" y2="1448.5" stroke="#3f66b5" stroke-width="2.6"/>
<path d="M820.35,1437.1L831.35,1456.1L809.35,1456.1Z" fill="#62bf34" stroke="#62bf34" stroke-width="3" stroke-linejoin="round"/>
</g>
<g>
<path d="M1880.6,1633.33C1887.17,1639.86 1906.88,1648.95 1920.02,1672.48C1933.15,1696.02 1946.29,1737.23 1959.43,1774.55C1972.57,1811.87 1985.71,1860.05 1998.85,1896.42C2011.99,1932.79 2025.13,1971.21 2038.26,1992.76C2051.4,2014.32 2064.54,2020.19 2077.68,2025.76C2090.82,2031.33 2103.96,2026.13 2117.1,2026.2C2130.23,2026.27 2143.37,2026.27 2156.51,2026.2C2169.65,2026.13 2182.79,2028.47 2195.93,2025.76C2209.07,2023.05 2222.21,2023.19 2235.34,2009.92C2248.48,1996.65 2261.62,1969.23 2274.76,1946.13C2287.9,1923.03 2301.04,1892.31 2314.18,1871.34C2327.31,1850.37 2340.45,1828.81 2353.59,1820.31C2366.73,1811.8 2379.87,1811.8 2393.01,1820.31C2406.15,1828.81 2419.29,1850.37 2432.42,1871.34C2445.56,1892.31 2458.7,1923.03 2471.84,1946.13C2484.98,1969.23 2498.12,1996.65 2511.26,2009.92C2524.39,2023.19 2537.53,2023.05 2550.67,2025.76C2563.81,2028.47 2576.95,2026.13 2590.09,2026.2C2603.23,2026.27 2616.37,2026.27 2629.5,2026.2C2642.64,2026.13 2655.78,2031.33 2668.92,2025.76C2682.06,2020.19 2695.2,2014.32 2708.34,1992.76C2721.47,1971.21 2734.61,1932.79 2747.75,1896.42C2760.89,1860.05 2774.03,1811.87 2787.17,1774.55C2800.31,1737.23 2813.45,1696.02 2826.58,1672.48C2839.72,1648.95 2859.43,1639.86 2866,1633.33" fill="none" stroke="#45484c" stroke-width="3.2" stroke-linejoin="round"/>
<path d="M1880.6,1451.19C1887.17,1460.65 1906.88,1473.85 1920.02,1507.95C1933.15,1542.04 1946.29,1601.36 1959.43,1655.77C1972.57,1710.17 1985.71,1781 1998.85,1834.38C2011.99,1887.76 2025.13,1944.22 2038.26,1976.05C2051.4,2007.87 2064.54,2016.96 2077.68,2025.32C2090.82,2033.68 2103.96,2026.05 2117.1,2026.2C2130.23,2026.35 2143.37,2026.35 2156.51,2026.2C2169.65,2026.05 2182.79,2028.18 2195.93,2025.32C2209.07,2022.46 2222.21,2025.91 2235.34,2009.04C2248.48,1992.18 2261.62,1955.66 2274.76,1924.13C2287.9,1892.6 2301.04,1848.94 2314.18,1819.87C2327.31,1790.79 2340.45,1761.39 2353.59,1749.7C2366.73,1738 2379.87,1738 2393.01,1749.7C2406.15,1761.39 2419.29,1790.79 2432.42,1819.87C2445.56,1848.94 2458.7,1892.6 2471.84,1924.13C2484.98,1955.66 2498.12,1992.18 2511.26,2009.04C2524.39,2025.91 2537.53,2022.46 2550.67,2025.32C2563.81,2028.18 2576.95,2026.05 2590.09,2026.2C2603.23,2026.35 2616.37,2026.35 2629.5,2026.2C2642.64,2026.05 2655.78,2033.68 2668.92,2025.32C2682.06,2016.96 2695.2,2007.87 2708.34,1976.05C2721.47,1944.22 2734.61,1887.76 2747.75,1834.38C2760.89,1781 2774.03,1710.17 2787.17,1655.77C2800.31,1601.36 2813.45,1542.04 2826.58,1507.95C2839.72,1473.85 2859.43,1460.65 2866,1451.19" fill="none" stroke="#d6304a" stroke-width="3.2" stroke-linejoin="round"/>
<path d="M1880.6,1279.39C1887.17,1291.31 1906.88,1307.88 1920.02,1350.89C1933.15,1393.89 1946.29,1468.42 1959.43,1537.42C1972.57,1606.42 1985.71,1696.39 1998.85,1764.87C2011.99,1833.36 2025.13,1905.18 2038.26,1948.33C2051.4,1991.48 2064.54,2010.88 2077.68,2023.78C2090.82,2036.69 2103.96,2025.43 2117.1,2025.76C2130.23,2026.09 2143.37,2026.05 2156.51,2025.76C2169.65,2025.47 2182.79,2028.11 2195.93,2024C2209.07,2019.89 2222.21,2022.31 2235.34,2001.12C2248.48,1979.93 2261.62,1935.28 2274.76,1896.86C2287.9,1858.43 2301.04,1805.79 2314.18,1770.59C2327.31,1735.4 2340.45,1699.83 2353.59,1685.68C2366.73,1671.53 2379.87,1671.53 2393.01,1685.68C2406.15,1699.83 2419.29,1735.4 2432.42,1770.59C2445.56,1805.79 2458.7,1858.43 2471.84,1896.86C2484.98,1935.28 2498.12,1979.93 2511.26,2001.12C2524.39,2022.31 2537.53,2019.89 2550.67,2024C2563.81,2028.11 2576.95,2025.47 2590.09,2025.76C2603.23,2026.05 2616.37,2026.09 2629.5,2025.76C2642.64,2025.43 2655.78,2036.69 2668.92,2023.78C2682.06,2010.88 2695.2,1991.48 2708.34,1948.33C2721.47,1905.18 2734.61,1833.36 2747.75,1764.87C2760.89,1696.39 2774.03,1606.42 2787.17,1537.42C2800.31,1468.42 2813.45,1393.89 2826.58,1350.89C2839.72,1307.88 2859.43,1291.31 2866,1279.39" fill="none" stroke="#3f66b5" stroke-width="3.2" stroke-linejoin="round"/>
<rect x="1872.4" y="1625.13" width="16.4" height="16.4" fill="#231f20" stroke="#111" stroke-width="1.6"/><rect x="1911.82" y="1664.28" width="16.4" height="16.4" fill="#231f20" stroke="#111" stroke-width="1.6"/><rect x="1951.23" y="1766.35" width="16.4" height="16.4" fill="#231f20" stroke="#111" stroke-width="1.6"/><rect x="1990.65" y="1888.22" width="16.4" height="16.4" fill="#231f20" stroke="#111" stroke-width="1.6"/><rect x="2030.06" y="1984.56" width="16.4" height="16.4" fill="#231f20" stroke="#111" stroke-width="1.6"/><rect x="2069.48" y="2017.56" width="16.4" height="16.4" fill="#231f20" stroke="#111" stroke-width="1.6"/><rect x="2108.9" y="2018" width="16.4" height="16.4" fill="#231f20" stroke="#111" stroke-width="1.6"/><rect x="2148.31" y="2018" width="16.4" height="16.4" fill="#231f20" stroke="#111" stroke-width="1.6"/><rect x="2187.73" y="2017.56" width="16.4" height="16.4" fill="#231f20" stroke="#111" stroke-width="1.6"/><rect x="2227.14" y="2001.72" width="16.4" height="16.4" fill="#231f20" stroke="#111" stroke-width="1.6"/><rect x="2266.56" y="1937.93" width="16.4" height="16.4" fill="#231f20" stroke="#111" stroke-width="1.6"/><rect x="2305.98" y="1863.14" width="16.4" height="16.4" fill="#231f20" stroke="#111" stroke-width="1.6"/><rect x="2345.39" y="1812.11" width="16.4" height="16.4" fill="#231f20" stroke="#111" stroke-width="1.6"/><rect x="2384.81" y="1812.11" width="16.4" height="16.4" fill="#231f20" stroke="#111" stroke-width="1.6"/><rect x="2424.22" y="1863.14" width="16.4" height="16.4" fill="#231f20" stroke="#111" stroke-width="1.6"/><rect x="2463.64" y="1937.93" width="16.4" height="16.4" fill="#231f20" stroke="#111" stroke-width="1.6"/><rect x="2503.06" y="2001.72" width="16.4" height="16.4" fill="#231f20" stroke="#111" stroke-width="1.6"/><rect x="2542.47" y="2017.56" width="16.4" height="16.4" fill="#231f20" stroke="#111" stroke-width="1.6"/><rect x="2581.89" y="2018" width="16.4" height="16.4" fill="#231f20" stroke="#111" stroke-width="1.6"/><rect x="2621.3" y="2018" width="16.4" height="16.4" fill="#231f20" stroke="#111" stroke-width="1.6"/><rect x="2660.72" y="2017.56" width="16.4" height="16.4" fill="#231f20" stroke="#111" stroke-width="1.6"/><rect x="2700.14" y="1984.56" width="16.4" height="16.4" fill="#231f20" stroke="#111" stroke-width="1.6"/><rect x="2739.55" y="1888.22" width="16.4" height="16.4" fill="#231f20" stroke="#111" stroke-width="1.6"/><rect x="2778.97" y="1766.35" width="16.4" height="16.4" fill="#231f20" stroke="#111" stroke-width="1.6"/><rect x="2818.38" y="1664.28" width="16.4" height="16.4" fill="#231f20" stroke="#111" stroke-width="1.6"/><rect x="2857.8" y="1625.13" width="16.4" height="16.4" fill="#231f20" stroke="#111" stroke-width="1.6"/>
<circle cx="1880.6" cy="1451.19" r="10.4" fill="#ec2027"/><circle cx="1920.02" cy="1507.95" r="10.4" fill="#ec2027"/><circle cx="1959.43" cy="1655.77" r="10.4" fill="#ec2027"/><circle cx="1998.85" cy="1834.38" r="10.4" fill="#ec2027"/><circle cx="2038.26" cy="1976.05" r="10.4" fill="#ec2027"/><circle cx="2077.68" cy="2025.32" r="10.4" fill="#ec2027"/><circle cx="2117.1" cy="2026.2" r="10.4" fill="#ec2027"/><circle cx="2156.51" cy="2026.2" r="10.4" fill="#ec2027"/><circle cx="2195.93" cy="2025.32" r="10.4" fill="#ec2027"/><circle cx="2235.34" cy="2009.04" r="10.4" fill="#ec2027"/><circle cx="2274.76" cy="1924.13" r="10.4" fill="#ec2027"/><circle cx="2314.18" cy="1819.87" r="10.4" fill="#ec2027"/><circle cx="2353.59" cy="1749.7" r="10.4" fill="#ec2027"/><circle cx="2393.01" cy="1749.7" r="10.4" fill="#ec2027"/><circle cx="2432.42" cy="1819.87" r="10.4" fill="#ec2027"/><circle cx="2471.84" cy="1924.13" r="10.4" fill="#ec2027"/><circle cx="2511.26" cy="2009.04" r="10.4" fill="#ec2027"/><circle cx="2550.67" cy="2025.32" r="10.4" fill="#ec2027"/><circle cx="2590.09" cy="2026.2" r="10.4" fill="#ec2027"/><circle cx="2629.5" cy="2026.2" r="10.4" fill="#ec2027"/><circle cx="2668.92" cy="2025.32" r="10.4" fill="#ec2027"/><circle cx="2708.34" cy="1976.05" r="10.4" fill="#ec2027"/><circle cx="2747.75" cy="1834.38" r="10.4" fill="#ec2027"/><circle cx="2787.17" cy="1655.77" r="10.4" fill="#ec2027"/><circle cx="2826.58" cy="1507.95" r="10.4" fill="#ec2027"/><circle cx="2866" cy="1451.19" r="10.4" fill="#ec2027"/>
<path d="M1880.6,1264.51L1894.5,1288.51L1866.7,1288.51Z" fill="#62bf34"/><path d="M1920.02,1336.01L1933.92,1360.01L1906.12,1360.01Z" fill="#62bf34"/><path d="M1959.43,1522.54L1973.33,1546.54L1945.53,1546.54Z" fill="#62bf34"/><path d="M1998.85,1749.99L2012.75,1773.99L1984.95,1773.99Z" fill="#62bf34"/><path d="M2038.26,1933.45L2052.16,1957.45L2024.36,1957.45Z" fill="#62bf34"/><path d="M2077.68,2008.9L2091.58,2032.9L2063.78,2032.9Z" fill="#62bf34"/><path d="M2117.1,2010.88L2131,2034.88L2103.2,2034.88Z" fill="#62bf34"/><path d="M2156.51,2010.88L2170.41,2034.88L2142.61,2034.88Z" fill="#62bf34"/><path d="M2195.93,2009.12L2209.83,2033.12L2182.03,2033.12Z" fill="#62bf34"/><path d="M2235.34,1986.24L2249.24,2010.24L2221.44,2010.24Z" fill="#62bf34"/><path d="M2274.76,1881.98L2288.66,1905.98L2260.86,1905.98Z" fill="#62bf34"/><path d="M2314.18,1755.71L2328.08,1779.71L2300.28,1779.71Z" fill="#62bf34"/><path d="M2353.59,1670.8L2367.49,1694.8L2339.69,1694.8Z" fill="#62bf34"/><path d="M2393.01,1670.8L2406.91,1694.8L2379.11,1694.8Z" fill="#62bf34"/><path d="M2432.42,1755.71L2446.32,1779.71L2418.52,1779.71Z" fill="#62bf34"/><path d="M2471.84,1881.98L2485.74,1905.98L2457.94,1905.98Z" fill="#62bf34"/><path d="M2511.26,1986.24L2525.16,2010.24L2497.36,2010.24Z" fill="#62bf34"/><path d="M2550.67,2009.12L2564.57,2033.12L2536.77,2033.12Z" fill="#62bf34"/><path d="M2590.09,2010.88L2603.99,2034.88L2576.19,2034.88Z" fill="#62bf34"/><path d="M2629.5,2010.88L2643.4,2034.88L2615.6,2034.88Z" fill="#62bf34"/><path d="M2668.92,2008.9L2682.82,2032.9L2655.02,2032.9Z" fill="#62bf34"/><path d="M2708.34,1933.45L2722.24,1957.45L2694.44,1957.45Z" fill="#62bf34"/><path d="M2747.75,1749.99L2761.65,1773.99L2733.85,1773.99Z" fill="#62bf34"/><path d="M2787.17,1522.54L2801.07,1546.54L2773.27,1546.54Z" fill="#62bf34"/><path d="M2826.58,1336.01L2840.48,1360.01L2812.68,1360.01Z" fill="#62bf34"/><path d="M2866,1264.51L2879.9,1288.51L2852.1,1288.51Z" fill="#62bf34"/>
<path d="M1881.4,1235.15V2028.4H2866.65" fill="none" stroke="#231f20" stroke-width="2.7"/>
<path d="M1881.4,1896.42h15.5M1881.4,1764.43h15.5M1881.4,1632.45h15.5M1881.4,1500.47h15.5M1881.4,1368.48h15.5M1881.4,1236.5h15.5M2045.38,2028.4v-15.5M2209.37,2028.4v-15.5M2373.35,2028.4v-15.5M2537.33,2028.4v-15.5M2701.32,2028.4v-15.5M2865.3,2028.4v-15.5" fill="none" stroke="#231f20" stroke-width="2.7"/>
<line x1="2161.1" y1="1327.4" x2="2253.2" y2="1327.4" stroke="#45484c" stroke-width="2.6"/>
<rect x="2198.85" y="1318.9" width="17" height="17" rx="2.4" fill="#231f20" stroke="#111" stroke-width="1.6"/>
<line x1="2161.1" y1="1388.3" x2="2253.2" y2="1388.3" stroke="#d6304a" stroke-width="2.6"/>
<circle cx="2207.35" cy="1388.3" r="10.5" fill="#ec2027"/>
<line x1="2161.1" y1="1448.5" x2="2253.2" y2="1448.5" stroke="#3f66b5" stroke-width="2.6"/>
<path d="M2207.35,1437.1L2218.35,1456.1L2196.35,1456.1Z" fill="#62bf34" stroke="#62bf34" stroke-width="3" stroke-linejoin="round"/>
</g>
<g font-family="'Liberation Serif','Noto Serif CJK SC',serif" fill="#231f20"><text x="367.3" y="835.88" style="font-size:53px;">10</text><text x="367.3" y="703.58" style="font-size:53px;">15</text><text x="367.3" y="571.54" style="font-size:53px;">20</text><text x="367.3" y="439.25" style="font-size:53px;">25</text><text x="367.3" y="307.21" style="font-size:53px;">30</text><text x="367.3" y="175.04" style="font-size:53px;">35</text><text x="367.3" y="42.87" style="font-size:53px;">40</text><text x="447.25" y="909.05" style="font-size:53px;">0</text><text x="598.04" y="909.05" style="font-size:53px;">60</text><text x="747.83" y="909.05" style="font-size:53px;">120</text><text x="912" y="909.05" style="font-size:53px;">180</text><text x="1077.29" y="909.05" style="font-size:53px;">240</text><text x="1241.33" y="909.05" style="font-size:53px;">300</text><text x="1405.5" y="909.05" style="font-size:53px;">360</text><text x="876.25" y="612.15" style="font-size:53px;font-style:italic;">F</text><text x="909.3" y="622.85" style="font-size:30px;font-style:italic;">y</text><text x="934.5" y="613.05" style="font-size:53px;">=</text><text x="977.1" y="612.65" style="font-size:53px;">500</text><text x="1068.5" y="612.15" style="font-size:53px;">N</text><text x="876.25" y="675.25" style="font-size:53px;font-style:italic;">F</text><text x="909.3" y="685.95" style="font-size:30px;font-style:italic;">y</text><text x="934.5" y="676.15" style="font-size:53px;">=</text><text x="978.1" y="675.75" style="font-size:53px;">800</text><text x="1068.5" y="675.25" style="font-size:53px;">N</text><text x="876.25" y="736.95" style="font-size:53px;font-style:italic;">F</text><text x="909.3" y="747.65" style="font-size:30px;font-style:italic;">y</text><text x="934.5" y="737.85" style="font-size:53px;">=</text><text x="979.2" y="737.7" style="font-size:53px;">1</text><text x="1018.7" y="737.45" style="font-size:53px;">100</text><text x="1107.1" y="736.95" style="font-size:53px;">N</text><text x="1736.25" y="838.1" style="font-size:53px;">12</text><text x="1735" y="724.58" style="font-size:53px;">16</text><text x="1735.5" y="611.43" style="font-size:53px;">20</text><text x="1734.25" y="498.29" style="font-size:53px;">24</text><text x="1735.5" y="384.89" style="font-size:53px;">28</text><text x="1736.25" y="271.62" style="font-size:53px;">32</text><text x="1735" y="158.35" style="font-size:53px;">36</text><text x="1735.5" y="45.08" style="font-size:53px;">40</text><text x="1816.45" y="913.25" style="font-size:53px;">0</text><text x="1967.01" y="913.25" style="font-size:53px;">60</text><text x="2116.57" y="913.25" style="font-size:53px;">120</text><text x="2280.5" y="913.25" style="font-size:53px;">180</text><text x="2445.56" y="913.25" style="font-size:53px;">240</text><text x="2609.37" y="913.25" style="font-size:53px;">300</text><text x="2773.3" y="913.25" style="font-size:53px;">360</text><text x="2263.55" y="612.15" style="font-size:53px;font-style:italic;">F</text><text x="2296.6" y="622.85" style="font-size:30px;font-style:italic;">y</text><text x="2321.8" y="613.05" style="font-size:53px;">=</text><text x="2364.4" y="612.65" style="font-size:53px;">500</text><text x="2455.8" y="612.15" style="font-size:53px;">N</text><text x="2263.55" y="675.25" style="font-size:53px;font-style:italic;">F</text><text x="2296.6" y="685.95" style="font-size:30px;font-style:italic;">y</text><text x="2321.8" y="676.15" style="font-size:53px;">=</text><text x="2365.4" y="675.75" style="font-size:53px;">800</text><text x="2455.8" y="675.25" style="font-size:53px;">N</text><text x="2263.55" y="736.95" style="font-size:53px;font-style:italic;">F</text><text x="2296.6" y="747.65" style="font-size:30px;font-style:italic;">y</text><text x="2321.8" y="737.85" style="font-size:53px;">=</text><text x="2366.5" y="737.7" style="font-size:53px;">1</text><text x="2406" y="737.45" style="font-size:53px;">100</text><text x="2494.4" y="736.95" style="font-size:53px;">N</text><text x="393" y="2041.28" style="font-size:53px;">0</text><text x="366.5" y="1909.29" style="font-size:53px;">30</text><text x="366.5" y="1777.31" style="font-size:53px;">60</text><text x="366.5" y="1645.33" style="font-size:53px;">90</text><text x="340" y="1513.34" style="font-size:53px;">120</text><text x="340" y="1381.36" style="font-size:53px;">150</text><text x="340" y="1249.38" style="font-size:53px;">180</text><text x="447.25" y="2116.25" style="font-size:53px;">0</text><text x="598.01" y="2116.25" style="font-size:53px;">60</text><text x="747.77" y="2116.25" style="font-size:53px;">120</text><text x="911.9" y="2116.25" style="font-size:53px;">180</text><text x="1077.16" y="2116.25" style="font-size:53px;">240</text><text x="1241.17" y="2116.25" style="font-size:53px;">300</text><text x="1405.3" y="2116.25" style="font-size:53px;">360</text><text x="876.25" y="1343.15" style="font-size:53px;font-style:italic;">F</text><text x="909.3" y="1353.85" style="font-size:30px;font-style:italic;">y</text><text x="934.5" y="1344.05" style="font-size:53px;">=</text><text x="977.1" y="1343.65" style="font-size:53px;">500</text><text x="1068.5" y="1343.15" style="font-size:53px;">N</text><text x="876.25" y="1406.25" style="font-size:53px;font-style:italic;">F</text><text x="909.3" y="1416.95" style="font-size:30px;font-style:italic;">y</text><text x="934.5" y="1407.15" style="font-size:53px;">=</text><text x="978.1" y="1406.75" style="font-size:53px;">800</text><text x="1068.5" y="1406.25" style="font-size:53px;">N</text><text x="876.25" y="1468.85" style="font-size:53px;font-style:italic;">F</text><text x="909.3" y="1479.55" style="font-size:30px;font-style:italic;">y</text><text x="934.5" y="1469.75" style="font-size:53px;">=</text><text x="979.2" y="1469.6" style="font-size:53px;">1</text><text x="1018.7" y="1469.35" style="font-size:53px;">100</text><text x="1107.1" y="1468.85" style="font-size:53px;">N</text><text x="1812.9" y="2041.28" style="font-size:53px;">0</text><text x="1786.4" y="1909.29" style="font-size:53px;">30</text><text x="1786.4" y="1777.31" style="font-size:53px;">60</text><text x="1786.4" y="1645.33" style="font-size:53px;">90</text><text x="1759.9" y="1513.34" style="font-size:53px;">120</text><text x="1759.9" y="1381.36" style="font-size:53px;">150</text><text x="1759.9" y="1249.38" style="font-size:53px;">180</text><text x="1868.15" y="2116.25" style="font-size:53px;">0</text><text x="2018.76" y="2116.25" style="font-size:53px;">60</text><text x="2168.37" y="2116.25" style="font-size:53px;">120</text><text x="2332.35" y="2116.25" style="font-size:53px;">180</text><text x="2497.46" y="2116.25" style="font-size:53px;">240</text><text x="2661.32" y="2116.25" style="font-size:53px;">300</text><text x="2825.3" y="2116.25" style="font-size:53px;">360</text><text x="2263.55" y="1343.15" style="font-size:53px;font-style:italic;">F</text><text x="2296.6" y="1353.85" style="font-size:30px;font-style:italic;">y</text><text x="2321.8" y="1344.05" style="font-size:53px;">=</text><text x="2364.4" y="1343.65" style="font-size:53px;">500</text><text x="2455.8" y="1343.15" style="font-size:53px;">N</text><text x="2263.55" y="1406.25" style="font-size:53px;font-style:italic;">F</text><text x="2296.6" y="1416.95" style="font-size:30px;font-style:italic;">y</text><text x="2321.8" y="1407.15" style="font-size:53px;">=</text><text x="2365.4" y="1406.75" style="font-size:53px;">800</text><text x="2455.8" y="1406.25" style="font-size:53px;">N</text><text x="2263.55" y="1468.85" style="font-size:53px;font-style:italic;">F</text><text x="2296.6" y="1479.55" style="font-size:30px;font-style:italic;">y</text><text x="2321.8" y="1469.75" style="font-size:53px;">=</text><text x="2366.5" y="1469.6" style="font-size:53px;">1</text><text x="2406" y="1469.35" style="font-size:53px;">100</text><text x="2494.4" y="1468.85" style="font-size:53px;">N</text><text transform="rotate(-90)" x="-745.45" y="303.8" style="font-size:50.5px;font-weight:300;">右</text><text transform="rotate(-90)" x="-693.08" y="303.8" style="font-size:50.5px;font-weight:300;">列</text><text transform="rotate(-90)" x="-642.17" y="303.8" style="font-size:53px;">-</text><text transform="rotate(-90)" x="-623.2" y="303.8" style="font-size:50.5px;font-weight:300;">与</text><text transform="rotate(-90)" x="-572.1" y="304.05" style="font-size:50.5px;font-weight:300;">内</text><text transform="rotate(-90)" x="-519.75" y="303.8" style="font-size:50.5px;font-weight:300;">圈</text><text transform="rotate(-90)" x="-466.88" y="303.8" style="font-size:50.5px;font-weight:300;">接</text><text transform="rotate(-90)" x="-415.88" y="304.05" style="font-size:50.5px;font-weight:300;">触</text><text transform="rotate(-90)" x="-363.05" y="304.05" style="font-size:50.5px;font-weight:300;">角</text><text transform="rotate(-90)" x="-299.3" y="303" style="font-size:54px;font-style:italic;">α</text><text transform="rotate(-90)" x="-270.2" y="313.1" style="font-size:31px;">i</text><text transform="rotate(-90)" x="-260.75" y="312.25" style="font-size:31px;font-style:italic;">j</text><text transform="rotate(-90)" x="-241.6" y="303" style="font-size:53px;">/</text><text transform="rotate(-90)" x="-227.65" y="300.65" style="font-size:44px;font-weight:300;">（</text><text transform="rotate(-90)" x="-176" y="302.75" style="font-size:52px;">°</text><text transform="rotate(-90)" x="-150.85" y="300.65" style="font-size:44px;font-weight:300;">）</text><text transform="rotate(-90)" x="-752.45" y="1685.5" style="font-size:50.5px;font-weight:300;">右</text><text transform="rotate(-90)" x="-700.08" y="1685.5" style="font-size:50.5px;font-weight:300;">列</text><text transform="rotate(-90)" x="-649.17" y="1685.5" style="font-size:53px;">-</text><text transform="rotate(-90)" x="-630.2" y="1685.5" style="font-size:50.5px;font-weight:300;">与</text><text transform="rotate(-90)" x="-580.15" y="1685.5" style="font-size:50.5px;font-weight:300;">外</text><text transform="rotate(-90)" x="-528.05" y="1685.5" style="font-size:50.5px;font-weight:300;">圈</text><text transform="rotate(-90)" x="-474.98" y="1685.5" style="font-size:50.5px;font-weight:300;">接</text><text transform="rotate(-90)" x="-423.18" y="1685.75" style="font-size:50.5px;font-weight:300;">触</text><text transform="rotate(-90)" x="-370.05" y="1685.75" style="font-size:50.5px;font-weight:300;">角</text><text transform="rotate(-90)" x="-306.1" y="1685.7" style="font-size:54px;font-style:italic;">α</text><text transform="rotate(-90)" x="-279.3" y="1696.75" style="font-size:31px;">o</text><text transform="rotate(-90)" x="-262.75" y="1694.95" style="font-size:31px;font-style:italic;">j</text><text transform="rotate(-90)" x="-241.6" y="1684.9" style="font-size:53px;">/</text><text transform="rotate(-90)" x="-227.45" y="1682.65" style="font-size:44px;font-weight:300;">（</text><text transform="rotate(-90)" x="-177.6" y="1684.95" style="font-size:52px;">°</text><text transform="rotate(-90)" x="-152.15" y="1682.65" style="font-size:44px;font-weight:300;">）</text><text transform="rotate(-90)" x="-1937.45" y="289.5" style="font-size:50.5px;font-weight:300;">右</text><text transform="rotate(-90)" x="-1885.17" y="289.5" style="font-size:50.5px;font-weight:300;">列</text><text transform="rotate(-90)" x="-1836.88" y="289.5" style="font-size:53px;">-</text><text transform="rotate(-90)" x="-1823.3" y="289.5" style="font-size:50.5px;font-weight:300;">与</text><text transform="rotate(-90)" x="-1773.4" y="289.75" style="font-size:50.5px;font-weight:300;">内</text><text transform="rotate(-90)" x="-1720.35" y="289.5" style="font-size:50.5px;font-weight:300;">圈</text><text transform="rotate(-90)" x="-1668.17" y="289.5" style="font-size:50.5px;font-weight:300;">接</text><text transform="rotate(-90)" x="-1615.88" y="289.75" style="font-size:50.5px;font-weight:300;">触</text><text transform="rotate(-90)" x="-1562.05" y="289.5" style="font-size:50.5px;font-weight:300;">载</text><text transform="rotate(-90)" x="-1510.72" y="289.5" style="font-size:50.5px;font-weight:300;">荷</text><text transform="rotate(-90)" x="-1444.3" y="289.35" style="font-size:54px;font-style:italic;font-weight:bold;">Q</text><text transform="rotate(-90)" x="-1405" y="299.3" style="font-size:31px;">i</text><text transform="rotate(-90)" x="-1396.75" y="298.85" style="font-size:31px;font-style:italic;">j</text><text transform="rotate(-90)" x="-1379.3" y="289" style="font-size:53px;">/</text><text transform="rotate(-90)" x="-1365.8" y="289.5" style="font-size:53px;">N</text><text transform="rotate(-90)" x="-1940.45" y="1723.5" style="font-size:50.5px;font-weight:300;">右</text><text transform="rotate(-90)" x="-1887.78" y="1723.5" style="font-size:50.5px;font-weight:300;">列</text><text transform="rotate(-90)" x="-1837.17" y="1723.5" style="font-size:53px;">-</text><text transform="rotate(-90)" x="-1825.9" y="1723.5" style="font-size:50.5px;font-weight:300;">与</text><text transform="rotate(-90)" x="-1775.45" y="1723.5" style="font-size:50.5px;font-weight:300;">外</text><text transform="rotate(-90)" x="-1724.05" y="1723.5" style="font-size:50.5px;font-weight:300;">圈</text><text transform="rotate(-90)" x="-1670.38" y="1723.5" style="font-size:50.5px;font-weight:300;">接</text><text transform="rotate(-90)" x="-1618.88" y="1723.75" style="font-size:50.5px;font-weight:300;">触</text><text transform="rotate(-90)" x="-1565.95" y="1723.5" style="font-size:50.5px;font-weight:300;">载</text><text transform="rotate(-90)" x="-1513.83" y="1723.5" style="font-size:50.5px;font-weight:300;">荷</text><text transform="rotate(-90)" x="-1449" y="1724.05" style="font-size:54px;font-style:italic;font-weight:bold;">Q</text><text transform="rotate(-90)" x="-1410.2" y="1735.75" style="font-size:31px;">o</text><text transform="rotate(-90)" x="-1394.75" y="1733.55" style="font-size:31px;font-style:italic;">j</text><text transform="rotate(-90)" x="-1374.6" y="1723.1" style="font-size:53px;">/</text><text transform="rotate(-90)" x="-1363.5" y="1723.6" style="font-size:53px;">N</text><text x="700.77" y="999.15" style="font-size:50.5px;font-weight:300;">滚</text><text x="753.58" y="998.65" style="font-size:50.5px;font-weight:300;">动</text><text x="805.27" y="998.9" style="font-size:50.5px;font-weight:300;">体</text><text x="857.73" y="998.9" style="font-size:50.5px;font-weight:300;">方</text><text x="909.88" y="998.9" style="font-size:50.5px;font-weight:300;">位</text><text x="961.75" y="999.15" style="font-size:50.5px;font-weight:300;">角</text><text x="1026.45" y="999" style="font-size:46px;font-style:italic;">ψ</text><text x="1057.25" y="1007.65" style="font-size:31px;font-style:italic;">j</text><text x="1067.5" y="998.3" style="font-size:53px;">/</text><text x="1080.85" y="995.55" style="font-size:44px;font-weight:300;">（</text><text x="1131.9" y="997.35" style="font-size:52px;">°</text><text x="1158.05" y="995.55" style="font-size:44px;font-weight:300;">）</text><text x="2068.78" y="1004.15" style="font-size:50.5px;font-weight:300;">滚</text><text x="2121.57" y="1003.65" style="font-size:50.5px;font-weight:300;">动</text><text x="2173.28" y="1003.9" style="font-size:50.5px;font-weight:300;">体</text><text x="2225.72" y="1003.9" style="font-size:50.5px;font-weight:300;">方</text><text x="2277.88" y="1003.9" style="font-size:50.5px;font-weight:300;">位</text><text x="2329.75" y="1004.15" style="font-size:50.5px;font-weight:300;">角</text><text x="2394.45" y="1004" style="font-size:46px;font-style:italic;">ψ</text><text x="2425.25" y="1012.65" style="font-size:31px;font-style:italic;">j</text><text x="2435.5" y="1003.3" style="font-size:53px;">/</text><text x="2448.85" y="1000.55" style="font-size:44px;font-weight:300;">（</text><text x="2499.9" y="1002.35" style="font-size:52px;">°</text><text x="2526.05" y="1000.55" style="font-size:44px;font-weight:300;">）</text><text x="700.98" y="2206.45" style="font-size:50.5px;font-weight:300;">滚</text><text x="753.78" y="2205.95" style="font-size:50.5px;font-weight:300;">动</text><text x="805.48" y="2206.2" style="font-size:50.5px;font-weight:300;">体</text><text x="857.93" y="2206.2" style="font-size:50.5px;font-weight:300;">方</text><text x="910.08" y="2206.2" style="font-size:50.5px;font-weight:300;">位</text><text x="961.95" y="2206.45" style="font-size:50.5px;font-weight:300;">角</text><text x="1026.65" y="2206.3" style="font-size:46px;font-style:italic;">ψ</text><text x="1057.45" y="2214.95" style="font-size:31px;font-style:italic;">j</text><text x="1067.7" y="2205.6" style="font-size:53px;">/</text><text x="1081.05" y="2202.85" style="font-size:44px;font-weight:300;">（</text><text x="1132.1" y="2204.65" style="font-size:52px;">°</text><text x="1158.25" y="2202.85" style="font-size:44px;font-weight:300;">）</text><text x="2121.28" y="2207.15" style="font-size:50.5px;font-weight:300;">滚</text><text x="2174.07" y="2206.65" style="font-size:50.5px;font-weight:300;">动</text><text x="2225.78" y="2206.9" style="font-size:50.5px;font-weight:300;">体</text><text x="2278.22" y="2206.9" style="font-size:50.5px;font-weight:300;">方</text><text x="2330.38" y="2206.9" style="font-size:50.5px;font-weight:300;">位</text><text x="2382.25" y="2207.15" style="font-size:50.5px;font-weight:300;">角</text><text x="2446.95" y="2207" style="font-size:46px;font-style:italic;">ψ</text><text x="2477.75" y="2215.65" style="font-size:31px;font-style:italic;">j</text><text x="2488" y="2206.3" style="font-size:53px;">/</text><text x="2501.35" y="2203.55" style="font-size:44px;font-weight:300;">（</text><text x="2552.4" y="2205.35" style="font-size:52px;">°</text><text x="2578.55" y="2203.55" style="font-size:44px;font-weight:300;">）</text><text x="700.5" y="1109.1" style="font-size:51.5px;font-weight:300;">（</text><text x="760.85" y="1111.75" style="font-size:63px;">a</text><text x="790.65" y="1109.1" style="font-size:51.5px;font-weight:300;">）</text><text x="829.27" y="1112.65" style="font-size:61px;font-weight:300;">与</text><text x="891.5" y="1112.9" style="font-size:61px;font-weight:300;">内</text><text x="953.52" y="1112.65" style="font-size:61px;font-weight:300;">圈</text><text x="1017.9" y="1112.65" style="font-size:61px;font-weight:300;">接</text><text x="1079.17" y="1112.9" style="font-size:61px;font-weight:300;">触</text><text x="1142.67" y="1112.9" style="font-size:61px;font-weight:300;">角</text><text x="2067.6" y="1113.3" style="font-size:51.5px;font-weight:300;">（</text><text x="2128" y="1116.45" style="font-size:63px;">b</text><text x="2160.35" y="1113.3" style="font-size:51.5px;font-weight:300;">）</text><text x="2200.57" y="1116.55" style="font-size:61px;font-weight:300;">与</text><text x="2261.9" y="1116.3" style="font-size:61px;font-weight:300;">外</text><text x="2322.62" y="1116.55" style="font-size:61px;font-weight:300;">圈</text><text x="2387" y="1116.55" style="font-size:61px;font-weight:300;">接</text><text x="2448.28" y="1116.8" style="font-size:61px;font-weight:300;">触</text><text x="2511.78" y="1116.8" style="font-size:61px;font-weight:300;">角</text><text x="674.7" y="2315.9" style="font-size:51.5px;font-weight:300;">（</text><text x="734.85" y="2319.05" style="font-size:63px;">c</text><text x="763.95" y="2315.9" style="font-size:51.5px;font-weight:300;">）</text><text x="792.48" y="2319.75" style="font-size:61px;font-weight:300;">与</text><text x="854.3" y="2320" style="font-size:61px;font-weight:300;">内</text><text x="917.62" y="2319.75" style="font-size:61px;font-weight:300;">圈</text><text x="980.9" y="2319.75" style="font-size:61px;font-weight:300;">接</text><text x="1042.88" y="2320" style="font-size:61px;font-weight:300;">触</text><text x="1106.5" y="2319.75" style="font-size:61px;font-weight:300;">载</text><text x="1168.53" y="2319.75" style="font-size:61px;font-weight:300;">荷</text><text x="2094" y="2316.2" style="font-size:51.5px;font-weight:300;">（</text><text x="2153.35" y="2319.05" style="font-size:63px;">d</text><text x="2185.95" y="2316.2" style="font-size:51.5px;font-weight:300;">）</text><text x="2215.88" y="2319.75" style="font-size:61px;font-weight:300;">与</text><text x="2277" y="2319.5" style="font-size:61px;font-weight:300;">外</text><text x="2338.22" y="2319.75" style="font-size:61px;font-weight:300;">圈</text><text x="2401.5" y="2319.75" style="font-size:61px;font-weight:300;">接</text><text x="2463.47" y="2320" style="font-size:61px;font-weight:300;">触</text><text x="2527.1" y="2319.75" style="font-size:61px;font-weight:300;">载</text><text x="2589.12" y="2319.75" style="font-size:61px;font-weight:300;">荷</text></g>
</svg>
</body></html>
